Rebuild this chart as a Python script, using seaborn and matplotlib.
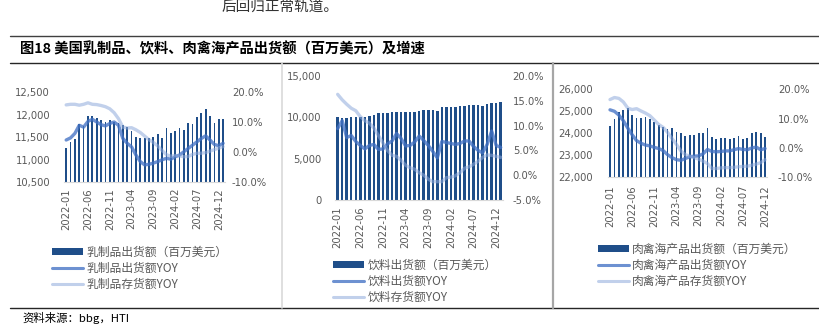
import numpy as np
import matplotlib
matplotlib.use("Agg")
import matplotlib.pyplot as plt
import seaborn as sns
from matplotlib.lines import Line2D
from matplotlib.patches import Patch
from matplotlib.ticker import FuncFormatter

# ---------------- data ----------------
months37 = [f"{y}-{m:02d}" for y in (2022, 2023, 2024) for m in range(1, 13)] + ["2025-01"]
months36 = months37[:36]

dairy_ship = [11270, 11390, 11460, 11790, 11760, 11980, 11980, 11920, 11880, 11850, 11880, 11850,
              11810, 11770, 11740, 11640, 11510, 11480, 11480, 11490, 11510, 11570, 11490, 11700,
              11590, 11640, 11710, 11660, 11810, 11790, 11960, 12030, 12140, 11980, 11810, 11910, 11910]
dairy_yoy = [4.1, 4.8, 6.3, 9.0, 8.4, 10.3, 11.0, 10.1, 9.2, 8.8, 9.6, 10.1,
             9.0, 4.6, 3.0, 1.8, -0.9, -3.1, -4.2, -4.0, -3.6, -3.1, -2.5, -2.0,
             -2.3, -1.5, -0.9, 0.2, 1.3, 2.4, 3.5, 4.6, 5.5, 4.1, 2.6, 2.2, 3.0]
dairy_inv = [15.8, 16.0, 16.0, 15.7, 16.0, 16.5, 16.0, 15.9, 15.6, 15.2, 14.5, 13.2,
             11.2, 8.4, 8.1, 8.2, 7.5, 6.6, 5.4, 4.2, 3.3, 2.1, 0.6, -0.8,
             -1.3, -1.1, -1.2, -1.5, -1.4, -0.7, -0.3, -0.3, -0.1, 0.4, 0.9, 1.4, 1.9]

bev_ship = [10000, 9900, 9950, 10000, 10080, 10080, 10080, 10170, 10290, 10490, 10490, 10490,
            10610, 10690, 10610, 10610, 10610, 10690, 10810, 10900, 10900, 10900, 10810, 11220,
            11300, 11300, 11300, 11420, 11420, 11500, 11500, 11500, 11420, 11620, 11700, 11780, 11860]
bev_yoy = [9.4, 11.0, 7.6, 8.0, 6.8, 6.0, 5.3, 6.0, 6.2, 5.2, 5.3, 6.3,
           6.9, 8.4, 7.4, 5.9, 6.0, 6.7, 7.9, 7.0, 6.0, 4.8, 3.5, 6.8,
           6.6, 6.4, 6.2, 6.4, 6.9, 6.9, 5.8, 5.0, 4.5, 6.2, 8.9, 6.0, 5.6]
bev_inv = [16.3, 15.2, 14.3, 13.5, 13.0, 11.8, 11.0, 10.5, 9.5, 8.0, 6.5, 5.0,
           4.0, 3.8, 3.0, 2.0, 1.5, 1.2, 0.5, 0.0, -0.8, -1.3, -1.3, -1.3,
           -0.5, -0.4, -0.1, 0.5, 1.4, 1.7, 2.2, 2.8, 3.6, 4.1, 4.0, 3.8, 3.6]

meat_ship = [24330, 24650, 24950, 25060, 25160, 24830, 24710, 24710, 24755, 24640, 24530, 24380,
             24300, 24180, 24230, 24070, 24030, 23880, 23920, 23920, 24030, 24000, 24255, 23845,
             23730, 23800, 23800, 23730, 23800, 23880, 23730, 23800, 24000, 24070, 24030, 23820]
meat_yoy = [13.0, 12.5, 11.2, 9.3, 6.8, 4.5, 2.5, 1.6, 1.0, 0.7, 0.2, -0.2,
            -0.9, -2.3, -3.3, -4.0, -4.2, -3.6, -3.0, -2.8, -2.7, -2.0, -0.5, -1.2,
            -1.3, -1.2, -1.0, -1.0, -0.6, -0.2, -0.5, -0.6, 0.0, 0.3, -0.6, -0.2]
meat_inv = [16.5, 17.2, 16.9, 15.7, 13.6, 13.1, 13.4, 12.6, 11.9, 11.0, 9.5, 8.0,
            7.0, 5.3, 3.2, 1.2, -1.0, -2.3, -2.8, -3.3, -3.8, -4.5, -5.3, -7.0,
            -7.0, -6.8, -6.7, -6.7, -6.6, -6.4, -6.3, -6.2, -5.9, -5.5, -5.0, -4.0]

labels_dairy = ["乳制品出货额（百万美元）", "乳制品出货额YOY", "乳制品存货额YOY"]
labels_bev = ["饮料出货额（百万美元）", "饮料出货额YOY", "饮料存货额YOY"]
labels_meat = ["肉禽海产品出货额（百万美元）", "肉禽海产品出货额YOY", "肉禽海产品存货额YOY"]

# ---------------- style ----------------
sns.set_style("white")
plt.rcParams["font.family"] = ["Noto Sans CJK SC", "DejaVu Sans"]

BAR = "#1F4E89"
YOY = "#4472C4"
INV = "#8FAADC"
GRAY = "#595959"
W, H = 820, 334

fig = plt.figure(figsize=(W / 100, H / 100), dpi=100)


def rect(l, t, r, b):
    return [l / W, 1 - b / H, (r - l) / W, (b - t) / H]


def panel(pos, months, ship, yoy, inv, lims, rlims, lstep, rstep, lpad, rpad, xpad, bw, labels, leg_xy):
    ax = fig.add_axes(rect(*pos))
    sns.barplot(x=months, y=ship, ax=ax, color=BAR, saturation=1, width=bw, linewidth=0)
    ax2 = ax.twinx()
    xs = np.arange(len(months))
    sns.lineplot(x=xs, y=yoy, ax=ax2, color=YOY, alpha=0.78, lw=2.4)
    sns.lineplot(x=xs, y=inv, ax=ax2, color=INV, alpha=0.55, lw=2.4)
    n = len(months)
    for a in (ax, ax2):
        a.set_xlim(-0.5, n - 0.5)
        for s in a.spines.values():
            s.set_visible(False)
    ax.set_ylim(*lims)
    ax.set_yticks(np.arange(lims[0], lims[1] + 1, lstep))
    ax.yaxis.set_major_formatter(FuncFormatter(lambda v, p: f"{v:,.0f}"))
    ax2.set_ylim(*rlims)
    ax2.set_yticks(np.arange(rlims[0], rlims[1] + 0.01, rstep))
    ax2.yaxis.set_major_formatter(FuncFormatter(lambda v, p: f"{v:.1f}%"))
    ax.spines["bottom"].set_visible(True)
    ax.spines["bottom"].set_color("#D9D9D9")
    ax.spines["bottom"].set_linewidth(0.8)
    ax.set_xticks(range(0, 36, 5))
    ax.set_xticklabels([months[i] for i in range(0, 36, 5)], rotation=90)
    ax.set_xticks(np.arange(-0.5, 35, 5), minor=True)
    ax.tick_params(axis="x", which="major", length=0, pad=xpad, labelsize=7.2, colors=GRAY)
    ax.tick_params(axis="x", which="minor", length=3, width=0.8, color="#D9D9D9")
    ax.tick_params(axis="y", length=0, pad=lpad, labelsize=7.2, colors=GRAY)
    ax2.tick_params(axis="y", length=0, pad=rpad, labelsize=7.2, colors=GRAY)
    ax.set_xlabel("")
    ax.set_ylabel("")
    ax2.set_ylabel("")
    for t in ax.get_xticklabels() + ax.get_yticklabels() + ax2.get_yticklabels():
        t.set_fontfamily("DejaVu Sans")
    handles = [Patch(facecolor=BAR, edgecolor="none"),
               Line2D([], [], color=YOY, alpha=0.78, lw=2.2),
               Line2D([], [], color=INV, alpha=0.55, lw=2.2)]
    fig.legend(handles, labels, loc="upper left", bbox_to_anchor=(leg_xy[0] / W, 1 - leg_xy[1] / H),
               frameon=False, borderpad=0, borderaxespad=0, handlelength=2.6, handleheight=0.5,
               handletextpad=0.3, labelspacing=0.25, fontsize=8.5, labelcolor=GRAY)


panel((64, 92.3, 225.3, 182.3), months37, dairy_ship, dairy_yoy, dairy_inv, (10500, 12500), (-10, 20),
      500, 10, 10, 4.8, 4.1, 0.4, labels_dairy, (52, 246))
panel((335.4, 76, 503, 200), months37, bev_ship, bev_yoy, bev_inv, (0, 15000), (-5, 20),
      5000, 5, 9.9, 7, 4.8, 0.55, labels_bev, (333, 259))
panel((607.8, 89.3, 767.3, 177.3), months36, meat_ship, meat_yoy, meat_inv, (22000, 26000), (-10, 20),
      1000, 10, 10.8, 7.7, 5.5, 0.4, labels_meat, (598, 243))

# ---------------- frame text / rules ----------------
fig.text(222 / W, 1 - 7 / H, "后回归正常轨道。", fontsize=10.5, color="#333333", va="center", ha="left")
fig.text(20 / W, 1 - 49 / H, "图18 美国乳制品、饮料、肉禽海产品出货额（百万美元）及增速", fontsize=10.3,
         fontweight="bold", color="#000000", va="center", ha="left")
fig.text(22 / W, 1 - 318 / H, "资料来源：bbg，HTI", fontsize=8.2, color="#000000", va="center", ha="left")

for y, c, lw in ((36, "#404040", 1.0), (63, "#262626", 1.0), (308, "#262626", 1.0)):
    fig.add_artist(Line2D([10 / W, 1], [1 - y / H, 1 - y / H], transform=fig.transFigure, color=c, lw=lw))
fig.add_artist(Line2D([282 / W, 282 / W], [1 - 63 / H, 1 - 308 / H], transform=fig.transFigure, color="#D9D9D9", lw=1.2))
fig.add_artist(Line2D([553 / W, 553 / W], [1 - 63 / H, 1 - 308 / H], transform=fig.transFigure, color="#A6A6A6", lw=1.6))

fig.savefig("out.png", dpi=100)
